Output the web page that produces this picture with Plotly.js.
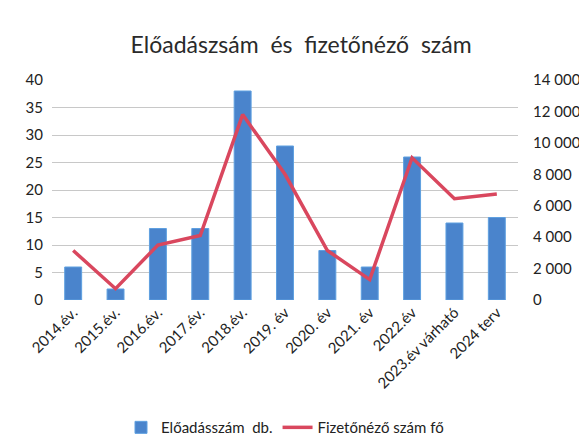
<!DOCTYPE html>
<html>
<head>
<meta charset="utf-8">
<script src="https://cdn.plot.ly/plotly-3.0.1.min.js"></script>
<style>html,body{margin:0;padding:0;background:#fff;}#chart{width:579px;height:446px;}</style>
</head>
<body>
<div id="chart"></div>
<script>
const categories = ["2014.év.", "2015.év.", "2016.év.", "2017.év.", "2018.év.", "2019. év", "2020. év", "2021. év", "2022.év", "2023.év várható", "2024 terv"];
const eloadasszam = [6, 2, 13, 13, 38, 28, 9, 6, 26, 14, 15];
const fizetonezo = [3150, 720, 3500, 4100, 11800, 8000, 3150, 1300, 9050, 6450, 6750];
const leftTicks = [0, 5, 10, 15, 20, 25, 30, 35, 40];
const rightTicks = [0, 2000, 4000, 6000, 8000, 10000, 12000, 14000];

const font = "Lato, 'Liberation Sans', sans-serif";

const traces = [
  {
    type: "bar", name: "Előadásszám  db.", x: categories, y: eloadasszam,
    marker: {color: "#4A84CC", line: {color: "#5FA0E0", width: 1}},
    yaxis: "y"
  },
  {
    type: "scatter", mode: "lines", name: "Fizetőnéző szám fő", x: categories, y: fizetonezo,
    line: {color: "#D9475E", width: 3.5},
    yaxis: "y2"
  }
];

const layout = {
  width: 579, height: 446,
  margin: {l: 52, r: 61, t: 80, b: 146, autoexpand: false},
  paper_bgcolor: "#fff", plot_bgcolor: "#fff",
  separators: ", ",
  font: {family: font, size: 14, color: "#222"},
  title: {text: "Előadászsám  és  fizetőnéző  szám", font: {family: font, size: 23, color: "#2a2a2a"}, x: 0.52, xanchor: "center", y: 0.9, yanchor: "middle"},
  bargap: 0.6,
  showlegend: true,
  legend: {orientation: "h", x: 0.5, xanchor: "center", y: -0.58, yanchor: "middle", font: {family: font, size: 15, color: "#222"}, traceorder: "normal"},
  xaxis: {automargin: false, tickangle: -45, showgrid: false, zeroline: false, showline: false, ticks: "", tickfont: {family: font, size: 15, color: "#222"}},
  yaxis: {automargin: false, range: [0, 40], tickvals: leftTicks, showgrid: true, gridcolor: "#c8c8c8", gridwidth: 1, zeroline: false, showline: false, ticks: "", ticklabelstandoff: 8, tickfont: {family: font, size: 15, color: "#222"}},
  yaxis2: {automargin: false, range: [0, 14000], tickvals: rightTicks, tickformat: ",d", overlaying: "y", side: "right", showgrid: false, zeroline: false, showline: false, ticks: "", ticklabelstandoff: 14, tickfont: {family: font, size: 15, color: "#222"}}
};

Plotly.newPlot("chart", traces, layout, {staticPlot: true, displayModeBar: false});
</script>
</body>
</html>
